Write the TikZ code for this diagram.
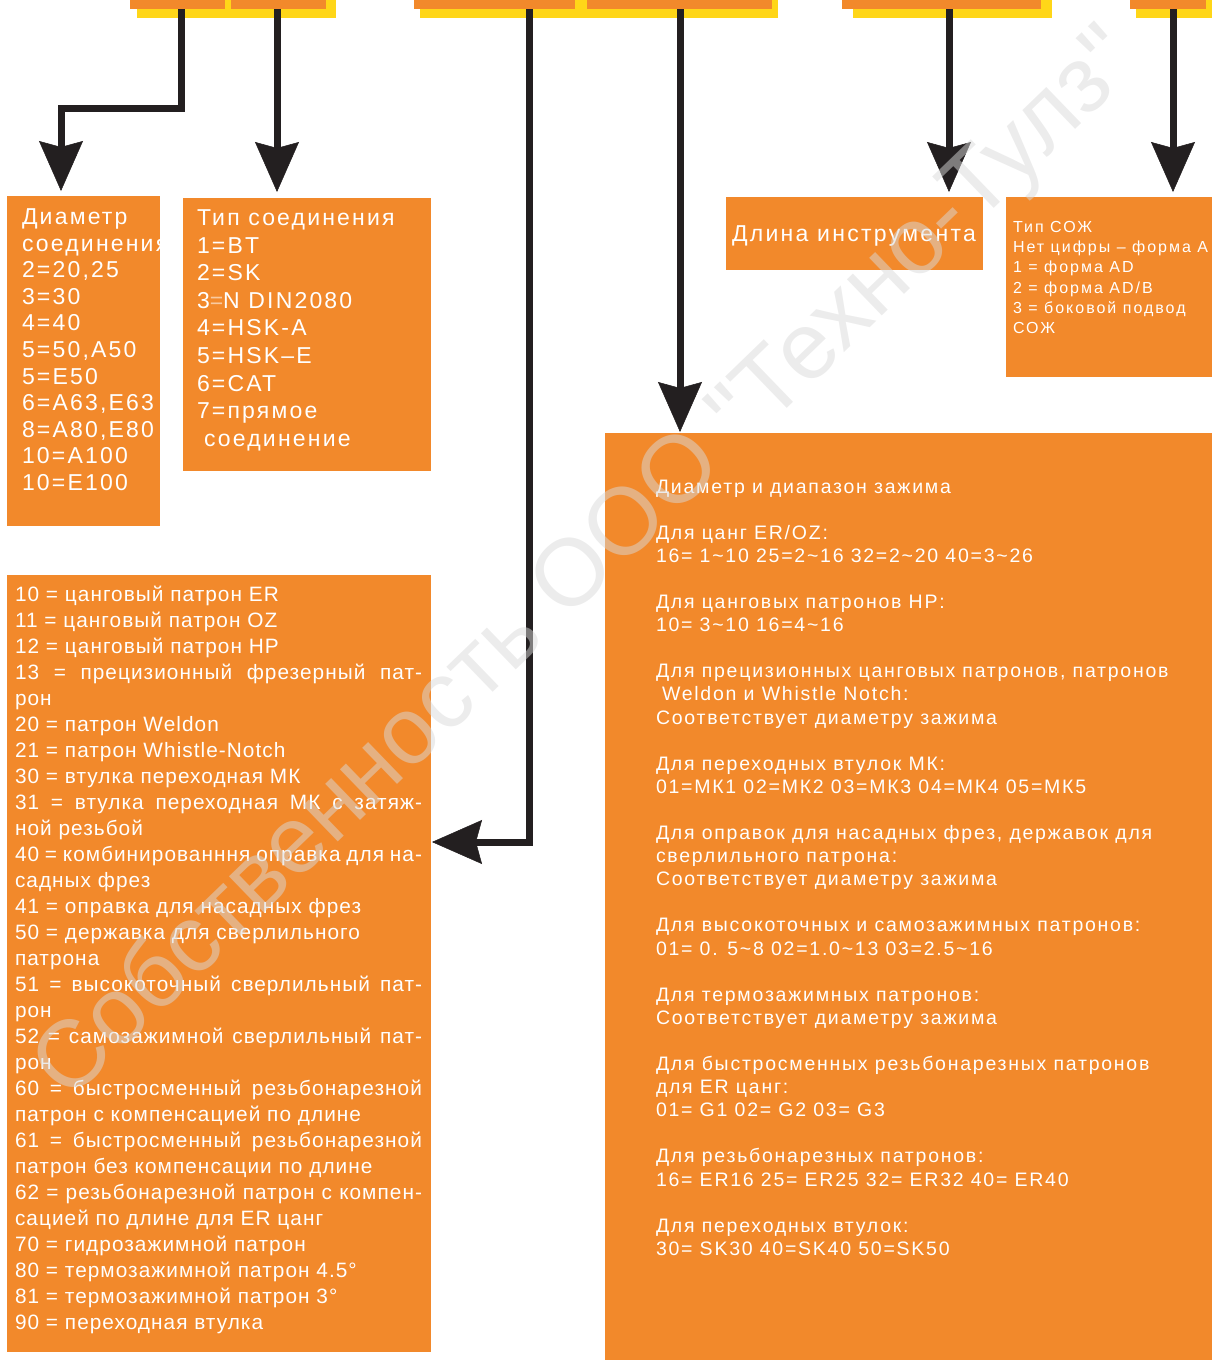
\documentclass[tikz,border=0pt]{standalone}
\usepackage{fontspec}
\setmainfont{Liberation Sans}
\newfontfamily\fTop[LetterSpace=9.5]{Liberation Sans}
\newfontfamily\fMid[LetterSpace=10]{Liberation Sans}
\newfontfamily\fSoz[LetterSpace=12.5]{Liberation Sans}
\newfontfamily\fRt[LetterSpace=9]{Liberation Sans}
\newfontfamily\fLt[LetterSpace=5]{Liberation Sans}
\newfontfamily\fWm{Liberation Sans}
\usetikzlibrary{arrows.meta,calc}
\definecolor{orng}{RGB}{242,137,43}
\definecolor{yel}{RGB}{255,214,24}
\definecolor{ink}{RGB}{35,31,32}
\newcommand\tld{\textasciitilde}
\newcommand\qt{\char"22\relax}
\newcommand\J[1]{\makebox[407pt][s]{#1}}
\newcommand\txtlines[6]{%
  \foreach \k/\t in {#6} {\node[wtxt, font=#5] (#1\k) at (#2, {#3+#4*\k}) {\t};}}
\tikzset{
  box/.style={fill=orng, draw=none, inner sep=0pt, outer sep=0pt, anchor=north west},
  bar/.style={fill=orng, inner sep=0pt, outer sep=0pt, anchor=north west, minimum height=9pt},
  shade/.style={fill=yel, inner sep=0pt, outer sep=0pt, anchor=north west, minimum height=18pt},
  conn/.style={draw=ink, line width=7pt, -{Stealth[length=50pt,width=44pt,inset=6pt,line width=0.5pt]}},
  wtxt/.style={text=white, inner sep=0pt, outer sep=0pt, anchor=base west},
  wm/.style={text=black!15, opacity=0.5, inner sep=0pt, font=\fWm\fontsize{95}{95}\selectfont},
}
\begin{document}
\begin{tikzpicture}[x=1pt,y=-1pt]
\useasboundingbox (0,0) rectangle (1212,1360);
% top bars with yellow shadow
\node[shade, minimum width=199pt] (s1) at (137,0) {};
\node[bar, minimum width=95pt] (b1) at (130,0) {};
\node[bar, minimum width=95pt] (b2) at (231,0) {};
\node[shade, minimum width=358pt] (s2) at (420,0) {};
\node[bar, minimum width=161pt] (b3) at (414,0) {};
\node[bar, minimum width=185pt] (b4) at (587,0) {};
\node[shade, minimum width=199pt] (s3) at (853,0) {};
\node[bar, minimum width=199pt] (b5) at (842,0) {};
\node[shade, minimum width=76pt] (s4) at (1136,0) {};
\node[bar, minimum width=76pt] (b6) at (1130,0) {};
% boxes
\node[box, minimum width=153pt, minimum height=330pt] (dia) at (7,196) {};
\node[box, minimum width=248pt, minimum height=273pt] (typ) at (183,198) {};
\node[box, minimum width=257pt, minimum height=73pt] (len) at (726,197) {};
\node[box, minimum width=206pt, minimum height=180pt] (soz) at (1006,197) {};
\node[box, minimum width=424pt, minimum height=777pt] (chk) at (7,575) {};
\node[box, minimum width=607pt, minimum height=927pt] (rng) at (605,433) {};
% connectors
\draw[conn] ([xshift=3.5pt]b1.south) -- ++(0,99) -| ([xshift=-22.5pt,yshift=5pt]dia.north);
\draw[conn] ([xshift=-1.5pt]b2.south) -- ++(0,183);
\draw[conn] ([xshift=34.5pt]b3.south) |- ($(chk.north east)+(1,267)$);
\draw[conn] ([xshift=0.5pt]b4.south) -- ++(0,423);
\draw[conn] ([xshift=7.5pt]b5.south) -- ++(0,183);
\draw[conn] ([xshift=5pt]b6.south) -- ++(0,183);
% texts
\txtlines{d}{22}{224.5}{26.6}{\fTop\fontsize{23}{26}\selectfont}{0/Диаметр,1/соединения,2/{2=20,25},3/3=30,4/4=40,5/{5=50,A50},6/5=E50,7/{6=A63,E63},8/{8=A80,E80},9/10=A100,10/10=E100}
\txtlines{t}{197}{225.5}{27.6}{\fTop\fontsize{23}{26}\selectfont}{0/Тип соединения,1/1=BT,2/2=SK,3/{3{\color{orng!45!white}=}N DIN2080},4/4=HSK-A,5/5=HSK–E,6/6=CAT,7/7=прямое,8/{\hspace*{7pt}соединение}}
\node[wtxt, font=\fMid\fontsize{23}{26}\selectfont] (lent) at (732,241) {Длина инструмента};
\txtlines{c}{1013}{232.7}{20.1}{\fSoz\fontsize{16}{20}\selectfont}{0/Тип СОЖ,1/Нет цифры – форма А,2/1 = форма AD,3/{2 = форма AD/B},4/3 = боковой подвод,5/СОЖ}
\txtlines{k}{15}{601}{26}{\fLt\fontsize{20.8}{26}\selectfont}{0/10 = цанговый патрон ER,1/11 = цанговый патрон OZ,2/12 = цанговый патрон HP,3/{\J{13 = прецизионный фрезерный пат-}},4/рон,5/20 = патрон Weldon,6/21 = патрон Whistle-Notch,7/30 = втулка переходная МК,8/{\J{31 = втулка переходная МК с затяж-}},9/ной резьбой,10/{\J{40 = комбинированння оправка для на-}},11/садных фрез,12/41 = оправка для насадных фрез,13/50 = державка для сверлильного,14/патрона,15/{\J{51 = высокоточный сверлильный пат-}},16/рон,17/{\J{52 = самозажимной сверлильный пат-}},18/рон,19/{\J{60 = быстросменный резьбонарезной}},20/патрон с компенсацией по длине,21/{\J{61 = быстросменный резьбонарезной}},22/патрон без компенсации по длине,23/{\J{62 = резьбонарезной патрон с компен-}},24/сацией по длине для ER цанг,25/70 = гидрозажимной патрон,26/80 = термозажимной патрон 4.5°,27/81 = термозажимной патрон 3°,28/90 = переходная втулка}
\txtlines{r}{656}{493}{23.1}{\fRt\fontsize{19.5}{23}\selectfont}{0/Диаметр и диапазон зажима,2/{Для цанг ER/OZ:},3/{16= 1\tld10 25=2\tld16 32=2\tld20 40=3\tld26},5/Для цанговых патронов HP:,6/{10= 3\tld10 16=4\tld16},8/{Для прецизионных цанговых патронов, патронов},9/{\hspace*{6pt}Weldon и Whistle Notch:},10/Соответствует диаметру зажима,12/Для переходных втулок МК:,13/01=МК1 02=МК2 03=МК3 04=МК4 05=МК5,15/{Для оправок для насадных фрез, державок для},16/сверлильного патрона:,17/Соответствует диаметру зажима,19/Для высокоточных и самозажимных патронов:,20/{01= 0. 5\tld8 02=1.0\tld13 03=2.5\tld16},22/Для термозажимных патронов:,23/Соответствует диаметру зажима,25/Для быстросменных резьбонарезных патронов,26/для ER цанг:,27/01= G1 02= G2 03= G3,29/Для резьбонарезных патронов:,30/16= ER16 25= ER25 32= ER32 40= ER40,32/Для переходных втулок:,33/30= SK30 40=SK40 50=SK50}
% watermark
\node[wm, rotate=44] (wmk) at (588,566) {Собственность ООО \qt Техно-Тулз\qt};
\end{tikzpicture}
\end{document}
